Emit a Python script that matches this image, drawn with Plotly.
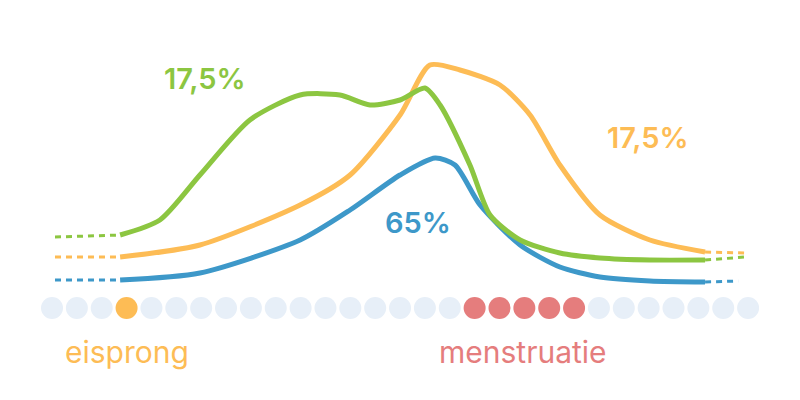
import plotly.graph_objects as go

# x in cycle days (dot index), y = height level
n_days = 29
ovulation_day = [3]
mens_days = [17, 18, 19, 20, 21]

blue_x = [2.74, 5.95, 9.98, 11.99, 14.0, 15.41, 16.21, 17.22, 18.83, 20.43, 22.04, 24.05, 26.27]
blue_y = [35, 42, 75, 105, 140, 157, 150, 110, 70, 48, 38, 34, 33]
orange_x = [2.74, 5.95, 9.98, 11.99, 14.0, 15.2, 16.41, 18.02, 19.23, 20.43, 22.04, 24.05, 26.27]
orange_y = [58, 70, 110, 140, 200, 250, 245, 230, 200, 150, 100, 75, 63]
green_x = [2.74, 4.34, 5.95, 7.96, 9.98, 11.58, 12.79, 14.0, 15.0, 15.61, 16.81, 17.62, 18.83, 20.43, 22.04, 24.05, 26.27]
green_y = [80, 95, 140, 195, 220, 220, 210, 215, 227, 210, 150, 100, 75, 62, 57, 55, 55]

dash_blue = ([0.12, 2.74], [35, 35], [26.27, 27.6], [33, 34])
dash_orange = ([0.12, 2.74], [58, 58], [26.27, 27.9], [63, 62])
dash_green = ([0.12, 2.74], [78, 80], [26.27, 27.9], [55, 58])

C_BLUE, C_ORANGE, C_GREEN, C_RED, C_DOT = "#3d98c9", "#fdbc55", "#8cc641", "#e57d7d", "#e7eff8"

fig = go.Figure()
dot_colors = [C_ORANGE if i in ovulation_day else C_RED if i in mens_days else C_DOT for i in range(n_days)]
fig.add_trace(go.Scatter(x=list(range(n_days)), y=[7] * n_days, mode="markers",
                         marker=dict(size=22, color=dot_colors, line=dict(width=0))))
for (xs, ys, dash), c in [((blue_x, blue_y, dash_blue), C_BLUE), ((orange_x, orange_y, dash_orange), C_ORANGE),
                          ((green_x, green_y, dash_green), C_GREEN)]:
    fig.add_trace(go.Scatter(x=dash[0], y=dash[1], mode="lines", line=dict(color=c, width=3, dash="6px,5px")))
    fig.add_trace(go.Scatter(x=dash[2], y=dash[3], mode="lines", line=dict(color=c, width=3, dash="6px,5px")))
    fig.add_trace(go.Scatter(x=xs, y=ys, mode="lines", line=dict(color=c, width=5, shape="spline", smoothing=0.7)))

font = "Inter"
for txt, x, y, c in [("17,5%", 6.14, 237, C_GREEN), ("17,5%", 23.97, 178, C_ORANGE), ("65%", 14.72, 93, C_BLUE),
                     ("eisprong", 3.02, -37, C_ORANGE), ("menstruatie", 18.95, -37, C_RED)]:
    fig.add_annotation(x=x, y=y, text=txt, showarrow=False,
                       font=dict(family=font, size=29 if "%" in txt else 30, color=c,
                                 weight=600 if "%" in txt else 400))

fig.update_layout(width=800, height=400, margin=dict(l=0, r=0, t=0, b=0), showlegend=False,
                  plot_bgcolor="white", paper_bgcolor="white",
                  xaxis=dict(range=[-1.77, 30.41], visible=False),
                  yaxis=dict(range=[-93, 307], visible=False))
fig.write_html("out.html")
